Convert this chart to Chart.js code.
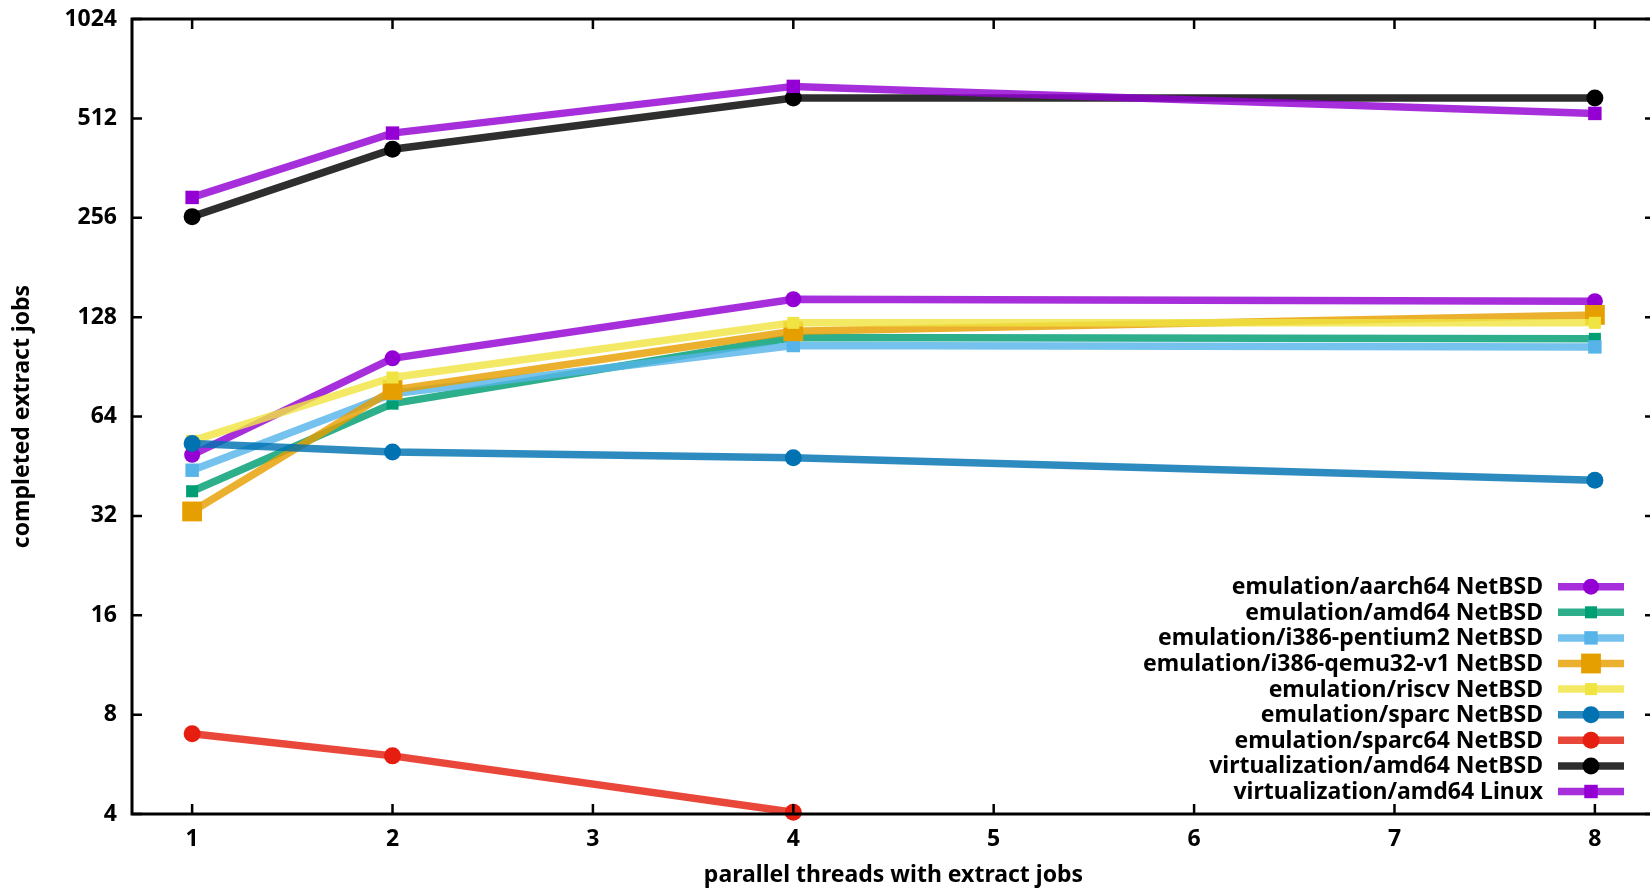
<!DOCTYPE html>
<html>
<head>
<meta charset="utf-8">
<script src="https://cdn.jsdelivr.net/npm/chart.js@4.4.1/dist/chart.umd.min.js"></script>
<style>
  html, body { margin: 0; padding: 0; background: #fff; overflow: hidden; }
  #wrap { width: 1650px; height: 890px; overflow: hidden; position: relative; }
  #c { position: absolute; left: 0; top: 0; }
</style>
</head>
<body>
<div id="wrap"><canvas id="c" width="1662" height="890"></canvas></div>
<script>
// Thread counts on the x axis
const threads = [1, 2, 4, 8];
const xTicks = [1, 2, 3, 4, 5, 6, 7, 8];
const yTicks = [4, 8, 16, 32, 64, 128, 256, 512, 1024];

// Completed extract jobs per configuration
const seriesNames = [
  'emulation/aarch64 NetBSD',
  'emulation/amd64 NetBSD',
  'emulation/i386-pentium2 NetBSD',
  'emulation/i386-qemu32-v1 NetBSD',
  'emulation/riscv NetBSD',
  'emulation/sparc NetBSD',
  'emulation/sparc64 NetBSD',
  'virtualization/amd64 NetBSD',
  'virtualization/amd64 Linux'
];
const aarch64Jobs    = [49, 96, 145, 143];
const amd64Jobs      = [38, 70, 111, 110];
const pentium2Jobs   = [44, 75, 105, 104];
const qemu32Jobs     = [33, 77, 116, 130];
const riscvJobs      = [54, 84, 123, 123];
const sparcJobs      = [53, 50, 48, 41];
const sparc64Jobs    = [7.0, 6.0, 4.05, null];
const virtNetbsdJobs = [258, 413, 590, 590];
const virtLinuxJobs  = [295, 462, 640, 530];

const seriesValues = [aarch64Jobs, amd64Jobs, pentium2Jobs, qemu32Jobs, riscvJobs,
                      sparcJobs, sparc64Jobs, virtNetbsdJobs, virtLinuxJobs];
const seriesColors = ['#9400d3', '#009e73', '#56b4e9', '#e69f00', '#f0e442',
                      '#0072b2', '#e51e10', '#000000', '#9400d3'];
const seriesPoints = ['circle', 'rect', 'rect', 'rect', 'rect',
                      'circle', 'circle', 'circle', 'rect'];
const seriesRadius = [8, 8.5, 9.5, 14, 8.5, 8.5, 8.5, 8.5, 9.5];

const FONT = "'Noto Sans', 'Open Sans', 'DejaVu Sans', sans-serif";
const FSIZE = 23;

function withAlpha(hex, a) {
  const n = parseInt(hex.slice(1), 16);
  return `rgba(${(n >> 16) & 255},${(n >> 8) & 255},${n & 255},${a})`;
}

const datasets = seriesNames.map((name, i) => ({
  label: name,
  data: threads.map((t, k) => ({ x: t, y: seriesValues[i][k] })),
  borderColor: withAlpha(seriesColors[i], 0.82),
  backgroundColor: seriesColors[i],
  pointBackgroundColor: seriesColors[i],
  pointBorderColor: seriesColors[i],
  pointBorderWidth: 0,
  borderWidth: 7.5,
  pointStyle: seriesPoints[i],
  pointRadius: seriesRadius[i],
  tension: 0,
  clip: false,
  order: seriesNames.length - i
}));

// Frame with inward ticks on all four sides
const framePlugin = {
  id: 'frame',
  afterDatasetsDraw(chart) {
    const { ctx, chartArea: a, scales } = chart;
    ctx.save();
    ctx.strokeStyle = '#000';
    ctx.lineWidth = 3;
    ctx.strokeRect(a.left, a.top, a.right - a.left, a.bottom - a.top);
    ctx.lineWidth = 2.5;
    const len = 10;
    ctx.beginPath();
    xTicks.forEach(v => {
      const px = scales.x.getPixelForValue(v);
      ctx.moveTo(px, a.bottom); ctx.lineTo(px, a.bottom - len);
      ctx.moveTo(px, a.top); ctx.lineTo(px, a.top + len);
    });
    yTicks.forEach(v => {
      const py = scales.y.getPixelForValue(v);
      ctx.moveTo(a.left, py); ctx.lineTo(a.left + len, py);
      ctx.moveTo(a.right, py); ctx.lineTo(a.right - len, py);
    });
    ctx.stroke();
    ctx.restore();
  }
};

// Key in the lower right: right-aligned labels with line samples after them
const keyPlugin = {
  id: 'key',
  afterDraw(chart) {
    const { ctx, chartArea: a } = chart;
    const rowH = 25.6;
    const n = chart.data.datasets.length;
    const firstY = a.bottom - 22.5 - (n - 1) * rowH;
    const textRight = 1543, lineL = 1558, lineR = 1624;
    ctx.save();
    ctx.font = `bold ${FSIZE}px ${FONT}`;
    ctx.textAlign = 'right';
    ctx.textBaseline = 'middle';
    chart.data.datasets.forEach((ds, i) => {
      const y = firstY + i * rowH;
      ctx.fillStyle = '#000';
      ctx.fillText(ds.label, textRight, y + 1);
      ctx.strokeStyle = ds.borderColor;
      ctx.lineWidth = ds.borderWidth;
      ctx.beginPath();
      ctx.moveTo(lineL, y); ctx.lineTo(lineR, y);
      ctx.stroke();
      ctx.fillStyle = ds.pointBackgroundColor;
      ctx.strokeStyle = ds.pointBackgroundColor;
      ctx.lineWidth = 0.01;
      Chart.helpers.drawPoint(ctx, { pointStyle: ds.pointStyle, radius: ds.pointRadius, rotation: 0, borderWidth: 0 },
        (lineL + lineR) / 2, y);
    });
    ctx.restore();
  }
};

new Chart(document.getElementById('c'), {
  type: 'line',
  data: { datasets },
  plugins: [framePlugin, keyPlugin],
  options: {
    responsive: false,
    animation: false,
    events: [],
    layout: { autoPadding: false, padding: { left: 0, top: 19, right: 7, bottom: 0 } },
    plugins: { legend: { display: false }, tooltip: { enabled: false } },
    scales: {
      x: {
        type: 'linear',
        min: 0.7,
        max: 8.3,
        afterBuildTicks: s => { s.ticks = xTicks.map(v => ({ value: v })); },
        afterFit: s => { s.height = 76; s.paddingLeft = 0; s.paddingRight = 0; },
        grid: { display: false, drawTicks: false },
        border: { display: false },
        ticks: {
          color: '#000',
          font: { family: FONT, size: FSIZE, weight: 'bold' },
          padding: 12,
          maxRotation: 0,
          autoSkip: false,
          callback: v => String(v)
        },
        title: {
          display: true,
          text: 'parallel threads with extract jobs',
          color: '#000',
          font: { family: FONT, size: FSIZE, weight: 'bold' },
          padding: { top: 0, bottom: 1 }
        }
      },
      y: {
        type: 'logarithmic',
        min: 4,
        max: 1024,
        afterBuildTicks: s => { s.ticks = yTicks.map(v => ({ value: v })); },
        afterFit: s => { s.width = 132; s.paddingTop = 0; s.paddingBottom = 0; },
        grid: { display: false, drawTicks: false },
        border: { display: false },
        ticks: {
          color: '#000',
          font: { family: FONT, size: FSIZE, weight: 'bold' },
          padding: 15,
          autoSkip: false,
          callback: v => String(v)
        },
        title: {
          display: true,
          text: 'completed extract jobs',
          color: '#000',
          font: { family: FONT, size: FSIZE, weight: 'bold' },
          padding: { top: 9, bottom: 0 }
        }
      }
    }
  }
});
</script>
</body>
</html>
